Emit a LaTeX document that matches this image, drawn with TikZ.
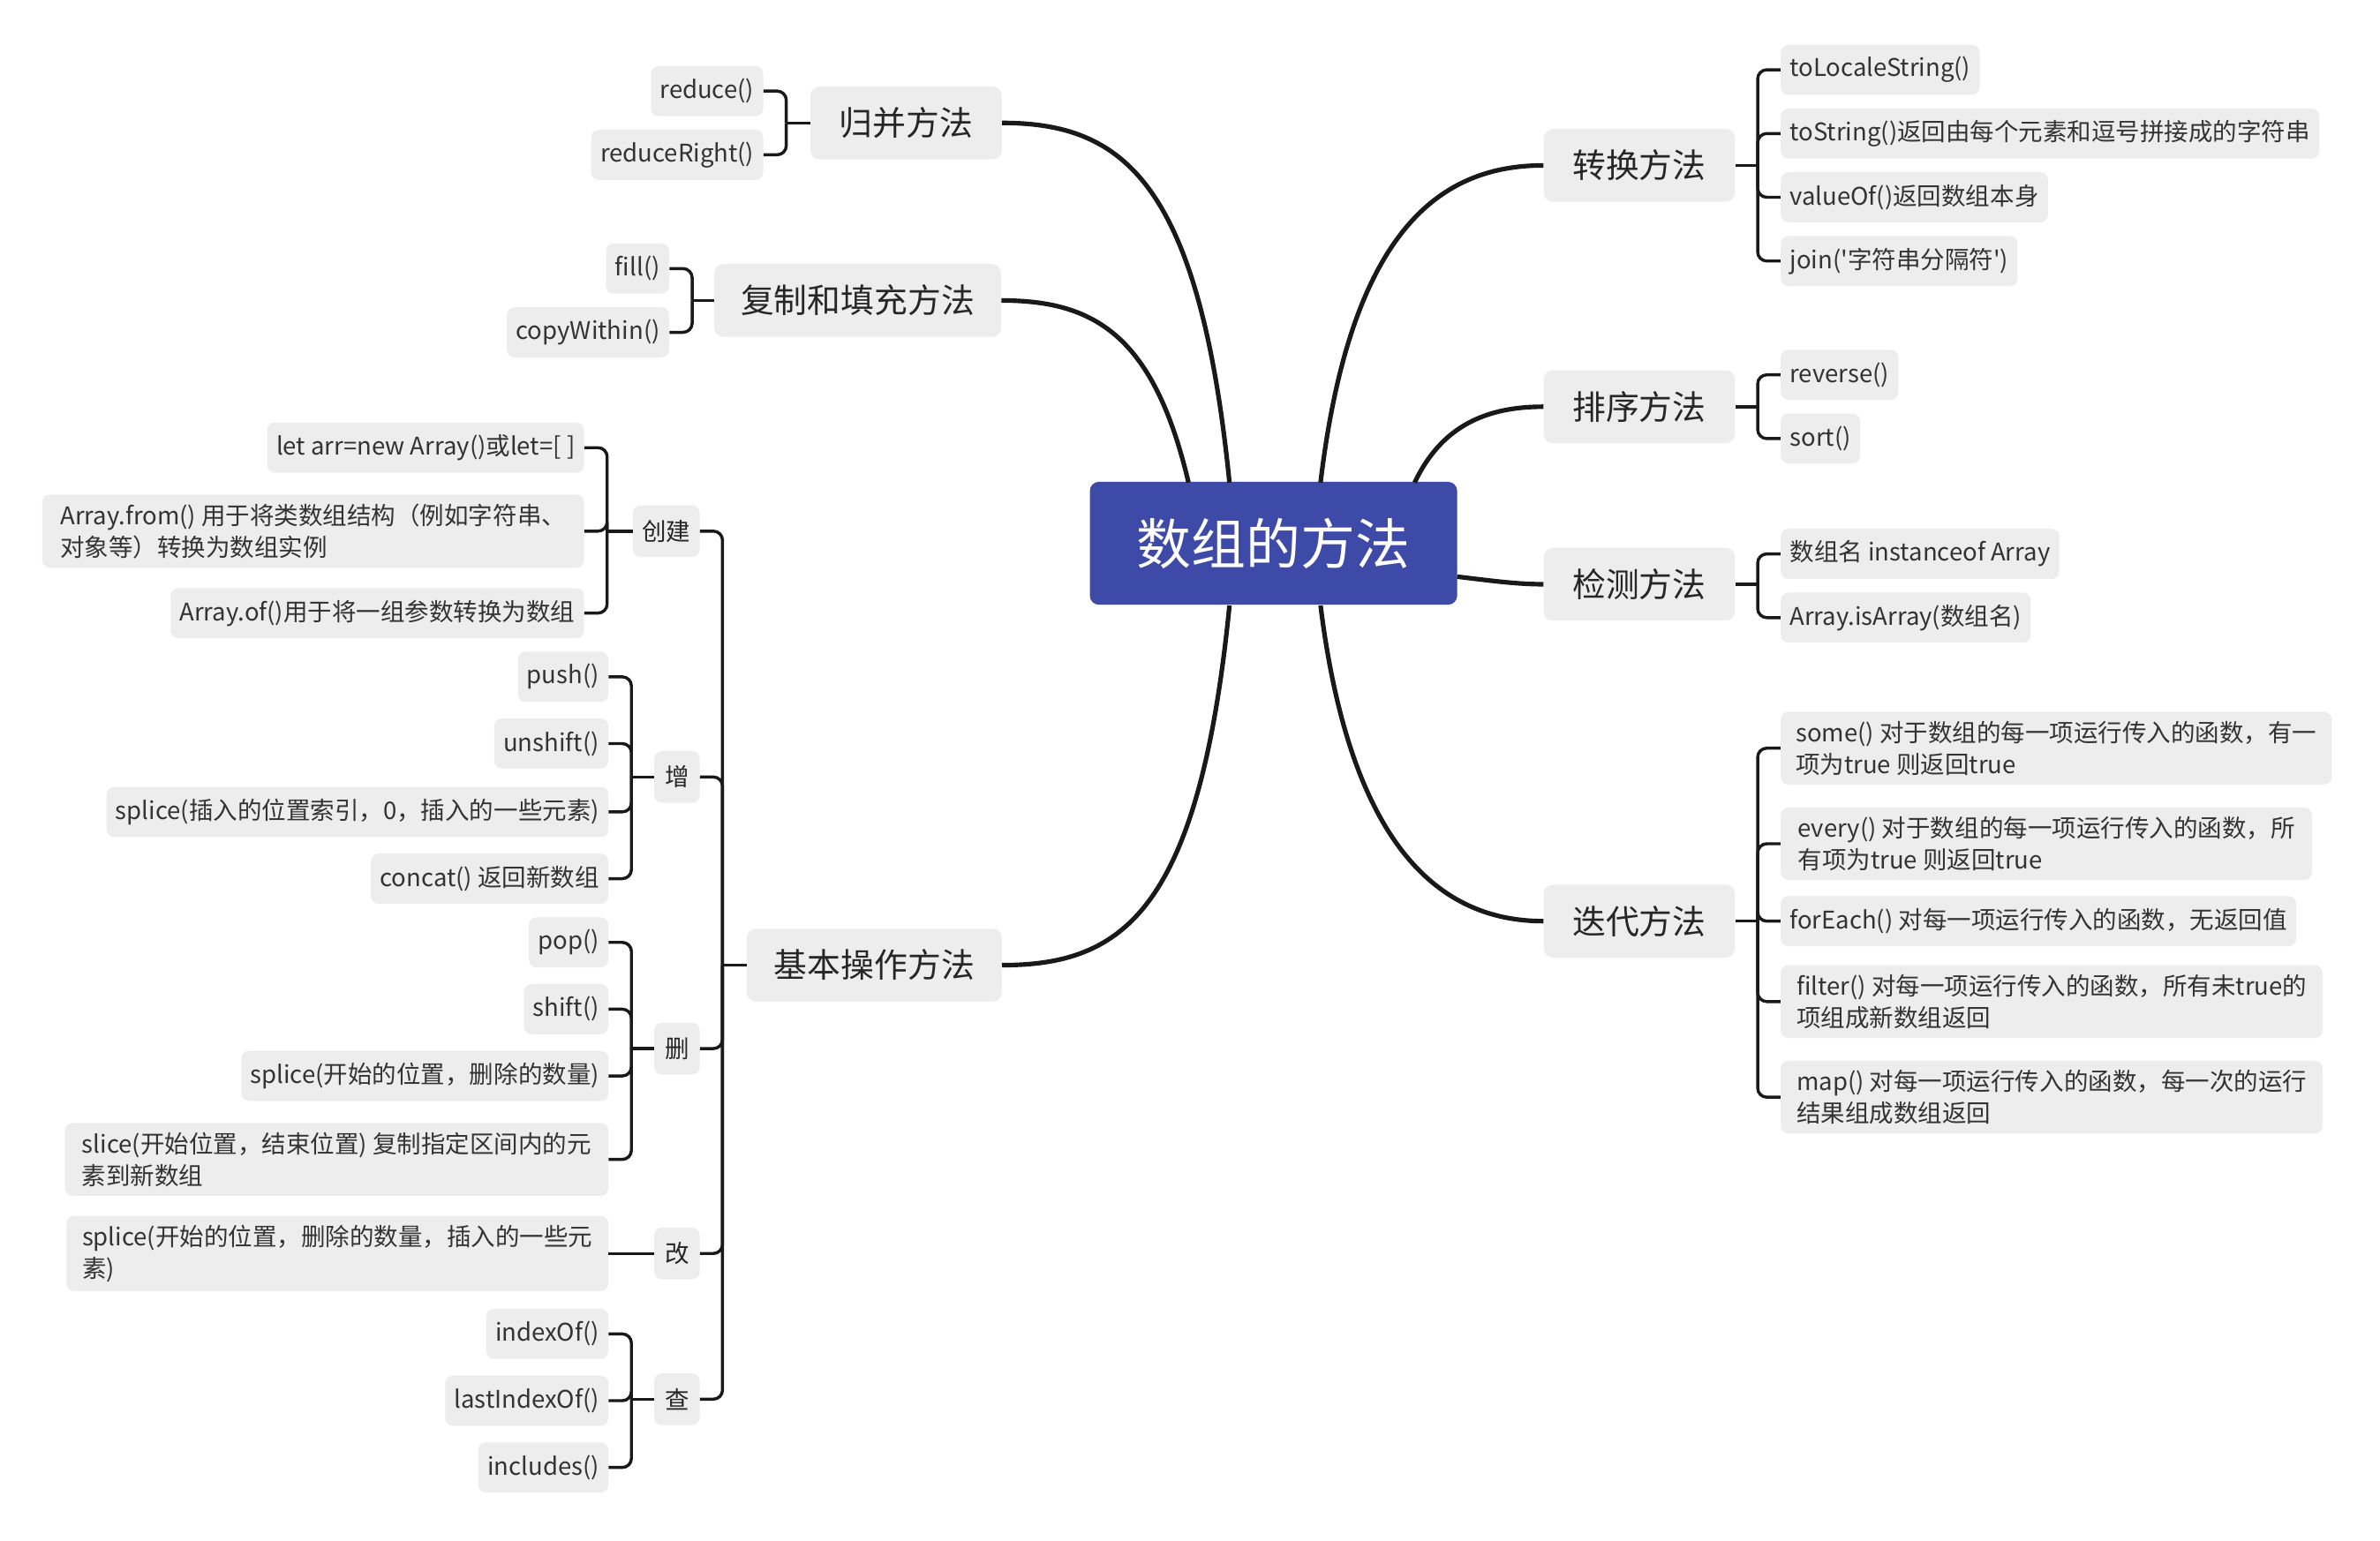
\documentclass[tikz,border=0pt]{standalone}
\usepackage{fontspec}
\setmainfont{Noto Sans CJK SC}
\newfontfamily\plainf{Noto Sans CJK SC}
\begin{document}
\begin{tikzpicture}[x=1pt,y=-1pt,
 leaf/.style={fill=black!7,rounded corners=5,inner sep=6,minimum height=33,text=black!80,font=\fontsize{16}{21}\selectfont,align=left},
 br/.style={fill=black!7,rounded corners=6,inner sep=8,minimum height=48,minimum width=126,text=black!85,font=\fontsize{22}{26}\selectfont},
 sb/.style={fill=black!7,rounded corners=5,inner sep=6,minimum height=34,minimum width=30,text=black!85,font=\fontsize{16}{20}\selectfont},
 con/.style={line width=3pt,black!90},
 bk/.style={line width=2pt,black!90,rounded corners=6}]
\useasboundingbox (0,0) rectangle (1568,1015);
\fill[white] (0,0) rectangle (1568,1015);
\node[fill={rgb,255:red,61;green,74;blue,168},rounded corners=6,minimum width=242,minimum height=81,text=white,font=\fontsize{36}{40}\selectfont] (c) at (839,358) {数组的方法};
% left branches
\node[br] (gb) at (597,81) {归并方法};
\node[br,minimum width=189] (fz) at (565,198) {复制和填充方法};
\node[br,minimum width=168] (jb) at (576,636) {基本操作方法};
% right
\node[br] (zh) at (1080,109) {转换方法};
\node[br] (px) at (1080,268) {排序方法};
\node[br] (jc) at (1080,385) {检测方法};
\node[br] (dd) at (1080,607) {迭代方法};
\draw[con] (810,318) .. controls (790,120) and (740,81) .. (gb.east);
\draw[con] (783,318) .. controls (760,220) and (720,198) .. (fz.east);
\draw[con] (810,399) .. controls (790,600) and (740,636) .. (jb.east);
\draw[con] (870,318) .. controls (890,150) and (950,109) .. (zh.west);
\draw[con] (932,318) .. controls (950,280) and (980,268) .. (px.west);
\draw[con] (960,380) .. controls (985,383) and (1000,385) .. (jc.west);
\draw[con] (870,399) .. controls (890,560) and (950,607) .. (dd.west);
% leaves left
\node[leaf,anchor=east] (l1) at (503,60) {reduce()};
\node[leaf,anchor=east] (l2) at (503,102) {reduceRight()};
\node[leaf,anchor=east] (l3) at (441,177) {fill()};
\node[leaf,anchor=east] (l4) at (441,219) {copyWithin()};
\draw[bk] (gb.west) -- (518,81); \foreach \n in {l1,l2} \draw[bk] (518,81) |- (\n.east);
\draw[bk] (fz.west) -- (456,198); \foreach \n in {l3,l4} \draw[bk] (456,198) |- (\n.east);
% sub branches
\node[sb] (cj) at (439,350) {创建};
\node[sb] (zj) at (446,512) {增};
\node[sb] (sc) at (446,691) {删};
\node[sb] (gg) at (446,826) {改};
\node[sb] (cc) at (446,922) {查};
\draw[bk] (jb.west) -- (476,636); \foreach \n in {cj,zj,sc,gg,cc} \draw[bk] (476,636) |- (\n.east);
\node[leaf,anchor=east] (a1) at (385,295) {let arr=new Array()或let=[ ]};
\node[leaf,anchor=east,minimum width=357] (a2) at (385,350) {Array.from() 用于将类数组结构（例如字符串、\\对象等）转换为数组实例};
\node[leaf,anchor=east] (a3) at (385,404) {Array.of()用于将一组参数转换为数组};
\draw[bk] (cj.west) -- (400,350); \foreach \n in {a1,a2,a3} \draw[bk] (400,350) |- (\n.east);
\node[leaf,anchor=east] (b1) at (401,446) {push()};
\node[leaf,anchor=east] (b2) at (401,490) {unshift()};
\node[leaf,anchor=east] (b3) at (401,535) {splice(插入的位置索引，0，插入的一些元素)};
\node[leaf,anchor=east] (b4) at (401,579) {concat() 返回新数组};
\draw[bk] (zj.west) -- (416,512); \foreach \n in {b1,b2,b3,b4} \draw[bk] (416,512) |- (\n.east);
\node[leaf,anchor=east] (d1) at (401,621) {pop()};
\node[leaf,anchor=east] (d2) at (401,665) {shift()};
\node[leaf,anchor=east] (d3) at (401,709) {splice(开始的位置，删除的数量)};
\node[leaf,anchor=east,minimum width=358] (d4) at (401,764) {slice(开始位置，结束位置) 复制指定区间内的元\\素到新数组};
\draw[bk] (sc.west) -- (416,691); \foreach \n in {d1,d2,d3,d4} \draw[bk] (416,691) |- (\n.east);
\node[leaf,anchor=east,minimum width=357] (e1) at (401,826) {splice(开始的位置，删除的数量，插入的一些元\\素)};
\draw[bk] (gg.west) -- (e1.east);
\node[leaf,anchor=east] (f1) at (401,879) {indexOf()};
\node[leaf,anchor=east] (f2) at (401,923) {lastIndexOf()};
\node[leaf,anchor=east] (f3) at (401,967) {includes()};
\draw[bk] (cc.west) -- (416,922); \foreach \n in {f1,f2,f3} \draw[bk] (416,922) |- (\n.east);
% right leaves
\node[leaf,anchor=west] (r1) at (1173,46) {toLocaleString()};
\node[leaf,anchor=west] (r2) at (1173,88) {toString()返回由每个元素和逗号拼接成的字符串};
\node[leaf,anchor=west] (r3) at (1173,130) {valueOf()返回数组本身};
\node[leaf,anchor=west] (r4) at (1173,172) {\plainf join('字符串分隔符')};
\draw[bk] (zh.east) -- (1158,109); \foreach \n in {r1,r2,r3,r4} \draw[bk] (1158,109) |- (\n.west);
\node[leaf,anchor=west] (s1) at (1173,247) {reverse()};
\node[leaf,anchor=west] (s2) at (1173,289) {sort()};
\draw[bk] (px.east) -- (1158,268); \foreach \n in {s1,s2} \draw[bk] (1158,268) |- (\n.west);
\node[leaf,anchor=west] (t1) at (1173,365) {数组名 instanceof Array};
\node[leaf,anchor=west] (t2) at (1173,407) {Array.isArray(数组名)};
\draw[bk] (jc.east) -- (1158,385); \foreach \n in {t1,t2} \draw[bk] (1158,385) |- (\n.west);
\node[leaf,anchor=west,minimum width=363] (u1) at (1173,493) {some() 对于数组的每一项运行传入的函数，有一\\项为true 则返回true};
\node[leaf,anchor=west,minimum width=350] (u2) at (1173,556) {every() 对于数组的每一项运行传入的函数，所\\有项为true 则返回true};
\node[leaf,anchor=west] (u3) at (1173,607) {forEach() 对每一项运行传入的函数，无返回值};
\node[leaf,anchor=west,minimum width=357] (u4) at (1173,660) {filter() 对每一项运行传入的函数，所有未true的\\项组成新数组返回};
\node[leaf,anchor=west,minimum width=357] (u5) at (1173,723) {map() 对每一项运行传入的函数，每一次的运行\\结果组成数组返回};
\draw[bk] (dd.east) -- (1158,607); \foreach \n in {u1,u2,u3,u4,u5} \draw[bk] (1158,607) |- (\n.west);
\end{tikzpicture}
\end{document}
